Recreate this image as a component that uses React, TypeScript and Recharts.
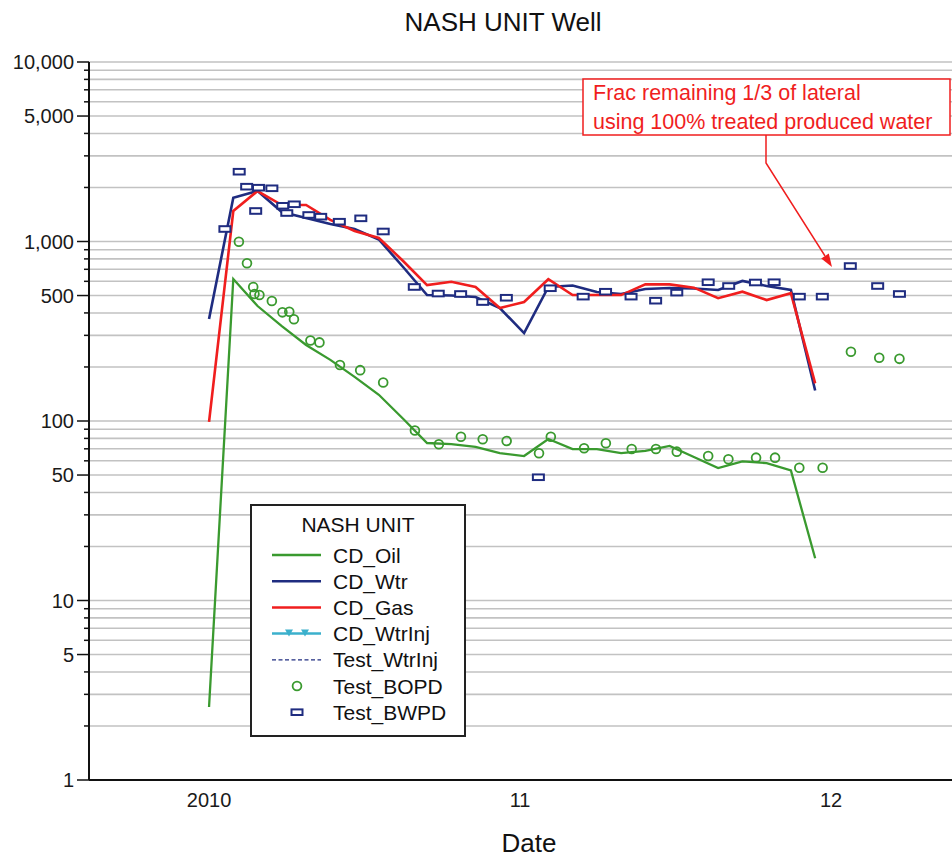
import { CartesianGrid, ComposedChart, Line, Scatter, XAxis, YAxis } from 'recharts';

// decimal year of each calculated-decline point
const cdDates = [
  2010.0, 2010.078, 2010.156, 2010.234, 2010.312, 2010.39, 2010.468, 2010.546, 2010.624, 2010.701,
  2010.779, 2010.857, 2010.935, 2011.013, 2011.091, 2011.169, 2011.247, 2011.325, 2011.403, 2011.481,
  2011.559, 2011.637, 2011.715, 2011.793, 2011.871, 2011.949,
];
const cdOil = [
  2.55, 618, 437, 338, 265, 219, 176, 140, 103, 75.4, 74.4, 71.7, 66.3, 63.8, 79.4, 69.8, 69.8, 66.3,
  68.1, 72.6, 63.0, 54.7, 59.5, 58.3, 53.0, 17.2,
];
const cdWtr = [
  370, 1754, 1911, 1460, 1352, 1252, 1174, 1026, 721, 503, 500, 491, 426, 309, 558, 569, 523, 510, 544,
  551, 547, 537, 603, 565, 537, 148,
];
const cdGas = [
  99, 1479, 1911, 1597, 1597, 1318, 1144, 1046, 779, 572, 597, 558, 426, 460, 616, 503, 503, 503, 577,
  577, 553, 483, 525, 472, 515, 162,
];

const bwpdDates = [
  2010.051, 2010.097, 2010.121, 2010.15, 2010.159, 2010.202, 2010.237, 2010.25, 2010.274, 2010.321,
  2010.359, 2010.419, 2010.488, 2010.56, 2010.66, 2010.737, 2010.809, 2010.88, 2010.956, 2011.059,
  2011.097, 2011.203, 2011.275, 2011.357, 2011.436, 2011.504, 2011.605, 2011.671, 2011.757, 2011.817,
  2011.898, 2011.972, 2012.062, 2012.15, 2012.22,
];
const testBwpd = [
  1174, 2448, 2020, 1479, 1994, 1979, 1581, 1441, 1612, 1405, 1375, 1289, 1346, 1137, 558, 513, 510, 460,
  486, 48.6, 549, 493, 525, 493, 468, 519, 593, 565, 591, 593, 493, 493, 730, 565, 510,
];

const bopdDates = [
  2010.096, 2010.122, 2010.142, 2010.146, 2010.162, 2010.202, 2010.236, 2010.258, 2010.273, 2010.326,
  2010.355, 2010.421, 2010.486, 2010.56, 2010.662, 2010.739, 2010.81, 2010.88, 2010.957, 2011.061,
  2011.099, 2011.206, 2011.276, 2011.359, 2011.437, 2011.504, 2011.605, 2011.67, 2011.759, 2011.82,
  2011.898, 2011.973, 2012.064, 2012.155, 2012.22,
];
const testBopd = [
  997, 756, 558, 510, 503, 466, 403, 406, 369, 281, 274, 205, 192, 164, 88.5, 74.2, 81.7, 79.1, 77.4,
  66.1, 81.7, 70.5, 75.1, 69.8, 69.8, 67.5, 63.8, 61.2, 62.5, 62.5, 54.9, 54.9, 243, 225, 222,
];

const yTicks = [
  1, 2, 3, 4, 5, 6, 7, 8, 9, 10, 20, 30, 40, 50, 60, 70, 80, 90, 100, 200, 300, 400, 500, 600, 700, 800,
  900, 1000, 2000, 3000, 4000, 5000, 6000, 7000, 8000, 9000, 10000,
];
const yLabels = [1, 5, 10, 50, 100, 500, 1000, 5000, 10000];
const xTicks = [2010, 2011, 2012];
const xTickLabels = ['2010', '11', '12'];

const legendTitle = 'NASH UNIT';
const legendNames = ['CD_Oil', 'CD_Wtr', 'CD_Gas', 'CD_WtrInj', 'Test_WtrInj', 'Test_BOPD', 'Test_BWPD'];
const noteLines = ['Frac remaining 1/3 of lateral', 'using 100% treated produced water'];

const GREEN = '#3a9a2f';
const BLUE = '#1f2c80';
const RED = '#f01e1e';
const CYAN = '#3bb0cc';
const FONT = '"Liberation Sans", Arial, Helvetica, sans-serif';

const rows = (ts: number[], vs: number[]) => ts.map((t, i) => ({ t, v: vs[i] }));

function YTick({ x, y, payload }: any) {
  const v = payload.value;
  const major = yLabels.includes(v);
  return (
    <g>
      <line x1={major ? x + 3 : x + 10} x2={x + 15} y1={y} y2={y} stroke="#111" strokeWidth={1.5} />
      {major && (
        <text x={x} y={y} dy="0.36em" textAnchor="end" fontSize={20} fill="#1a1a1a" fontFamily={FONT}>
          {v.toLocaleString('en-US')}
        </text>
      )}
    </g>
  );
}

const Square = (p: any) => (
  <rect x={p.cx - 5.5} y={p.cy - 2.8} width={11} height={5.6} fill="#fff" stroke={BLUE} strokeWidth={2} />
);
const Ring = (p: any) => <circle cx={p.cx} cy={p.cy} r={4.4} fill="none" stroke={GREEN} strokeWidth={1.8} />;

function LegendSymbol({ name, y }: { name: string; y: number }) {
  switch (name) {
    case 'CD_Oil':
      return <line x1={272} x2={321} y1={y} y2={y} stroke={GREEN} strokeWidth={2.5} />;
    case 'CD_Wtr':
      return <line x1={272} x2={321} y1={y} y2={y} stroke={BLUE} strokeWidth={2.5} />;
    case 'CD_Gas':
      return <line x1={272} x2={321} y1={y} y2={y} stroke={RED} strokeWidth={2.5} />;
    case 'CD_WtrInj':
      return (
        <g fill={CYAN}>
          <line x1={272} x2={321} y1={y} y2={y} stroke={CYAN} strokeWidth={2.5} />
          <polygon points={`${285},${y - 4} ${293},${y - 4} ${289},${y + 3}`} />
          <polygon points={`${301},${y - 4} ${309},${y - 4} ${305},${y + 3}`} />
        </g>
      );
    case 'Test_WtrInj':
      return <line x1={272} x2={321} y1={y} y2={y} stroke={BLUE} strokeWidth={1.2} strokeDasharray="4 2.5" />;
    case 'Test_BOPD':
      return <circle cx={297} cy={y} r={4.4} fill="none" stroke={GREEN} strokeWidth={1.8} />;
    default:
      return <rect x={291.5} y={y - 2.8} width={11} height={5.6} fill="#fff" stroke={BLUE} strokeWidth={2} />;
  }
}

export default function App() {
  return (
    <div style={{ position: 'absolute', left: 0, top: 0, width: 952, height: 858, overflow: 'hidden', background: '#fff' }}>
      <ComposedChart width={952} height={858} margin={{ top: 62, right: 0, bottom: 38, left: 0 }}>
        <CartesianGrid vertical={false} stroke="#c2c2c2" strokeWidth={1.6} />
        <XAxis
          type="number"
          dataKey="t"
          domain={[2009.614, 2012.389]}
          ticks={xTicks}
          tickFormatter={(t: number) => xTickLabels[xTicks.indexOf(t)]}
          allowDataOverflow
          height={40}
          tickLine={false}
          tickMargin={7}
          axisLine={{ stroke: '#111', strokeWidth: 2 }}
          tick={{ fontSize: 20, fill: '#1a1a1a', fontFamily: FONT }}
        />
        <YAxis
          type="number"
          dataKey="v"
          scale="log"
          domain={[1, 10000]}
          ticks={yTicks}
          interval={0}
          allowDataOverflow
          width={89}
          tickSize={12}
          tickMargin={3}
          tickLine={false}
          axisLine={{ stroke: '#111', strokeWidth: 2 }}
          tick={<YTick />}
        />
        <Line data={rows(cdDates, cdOil)} dataKey="v" type="linear" stroke={GREEN} strokeWidth={2.3} dot={false} isAnimationActive={false} />
        <Line data={rows(cdDates, cdWtr)} dataKey="v" type="linear" stroke={BLUE} strokeWidth={2.6} dot={false} isAnimationActive={false} />
        <Line data={rows(cdDates, cdGas)} dataKey="v" type="linear" stroke={RED} strokeWidth={2.6} dot={false} isAnimationActive={false} />
        <Scatter data={rows(bopdDates, testBopd)} dataKey="v" shape={Ring} isAnimationActive={false} />
        <Scatter data={rows(bwpdDates, testBwpd)} dataKey="v" shape={Square} isAnimationActive={false} />
      </ComposedChart>

      <svg width={952} height={858} style={{ position: 'absolute', left: 0, top: 0, pointerEvents: 'none' }} fontFamily={FONT}>
        <text x={503} y={31} textAnchor="middle" fontSize={26} fill="#111">NASH UNIT Well</text>
        <text x={529} y={852} textAnchor="middle" fontSize={26} fill="#111">Date</text>

        {/* annotation */}
        <rect x={583} y={79} width={367} height={56} fill="#fff" stroke={RED} strokeWidth={1.5} />
        {noteLines.map((s, i) => (
          <text key={s} x={593} y={100 + i * 29} fontSize={21.5} fill={RED}>{s}</text>
        ))}
        <polyline points="766,135 766,163 825,256" fill="none" stroke={RED} strokeWidth={1.5} />
        <polygon points="832,267 821.2,258.4 828.8,253.6" fill={RED} />

        {/* legend */}
        <rect x={251} y={505} width={214} height={231} fill="#fff" stroke="#222" strokeWidth={2} />
        <text x={358} y={532} textAnchor="middle" fontSize={21} fill="#111">{legendTitle}</text>
        {legendNames.map((n, i) => {
          const y = 555 + i * 26.2;
          return (
            <g key={n}>
              <LegendSymbol name={n} y={y} />
              <text x={333} y={y} dy="0.36em" fontSize={21} fill="#111">{n}</text>
            </g>
          );
        })}
      </svg>
    </div>
  );
}
